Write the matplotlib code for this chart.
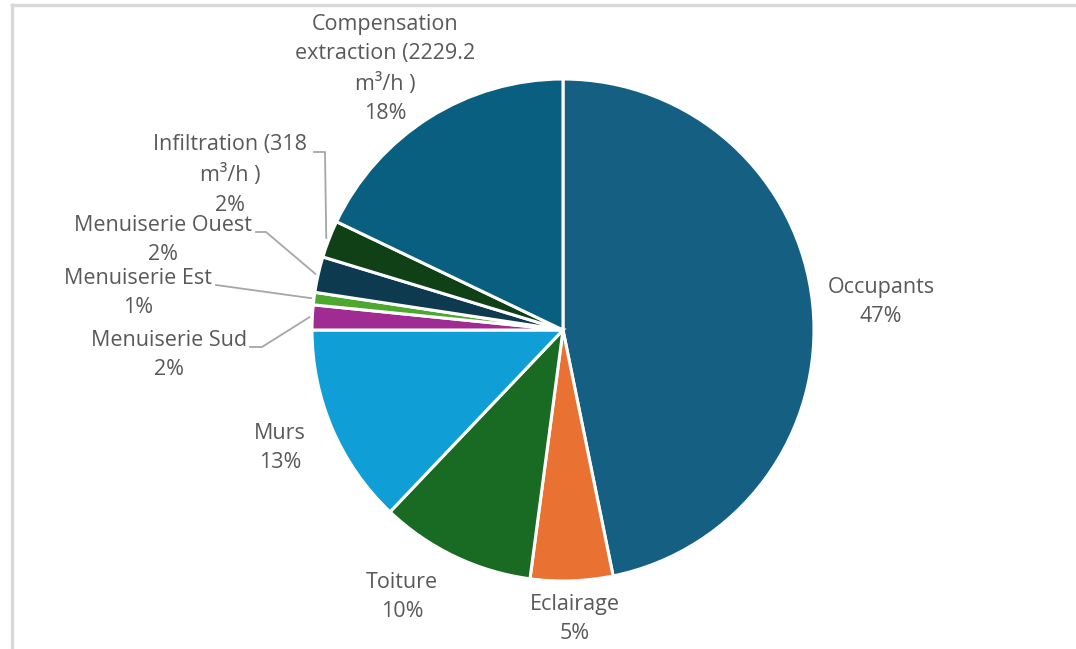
import numpy as np
import matplotlib.pyplot as plt
from matplotlib.lines import Line2D

# slices in clockwise order starting at 12 o'clock
labels = ['Occupants', 'Eclairage', 'Toiture', 'Murs', 'Menuiserie Sud',
          'Menuiserie Est', 'Menuiserie Ouest', 'Infiltration (318\nm\u00b3/h )',
          'Compensation\nextraction (2229.2\nm\u00b3/h )']
values = [46.8, 5.3, 10.0, 12.9, 1.6, 0.8, 2.3, 2.4, 17.9]
pct_text = ['47%', '5%', '10%', '13%', '2%', '1%', '2%', '2%', '18%']
colors = ['#156082', '#E97132', '#196B24', '#0F9ED5', '#A02B93',
          '#4EA72E', '#0D3A4E', '#0F4016', '#095F80']

W, H = 1076, 649
fig = plt.figure(figsize=(W / 100, H / 100), dpi=100)
ax = fig.add_axes([0, 0, 1, 1])

cx, cy, r = 563, H - 330, 251
wedges, _ = ax.pie(values, colors=colors, startangle=90, counterclock=False,
                   center=(cx, cy), radius=r,
                   wedgeprops=dict(edgecolor='white', linewidth=2.2))
ax.set_xlim(0, W)
ax.set_ylim(0, H)
ax.set_aspect('equal')
ax.axis('off')

txt = dict(ha='center', va='center', fontsize=15.5, color='#595959',
           family='Open Sans', linespacing=1.52)

# label centres (image pixel coords)
label_pos = {
    0: (881, 302),
    1: (575, 619),
    2: (402, 597),
    3: (280, 448),
    4: (169, 355),
    5: (138, 293),
    6: (163, 240),
    7: (230, 175),
    8: (385, 69),
}
for i, (x, y) in label_pos.items():
    ax.text(x, H - y, labels[i] + '\n' + pct_text[i], **txt)

# leader lines for the small slices: (start, elbow) in image pixels
leaders = {
    4: [(250, 347), (262, 347)],
    5: [(216, 285)],
    6: [(256, 232), (266, 232)],
    7: [(314, 152), (325, 152)],
}
for i, pts in leaders.items():
    w = wedges[i]
    mid = np.deg2rad((w.theta1 + w.theta2) / 2)
    tip = (cx + (r + 3) * np.cos(mid), cy + (r + 3) * np.sin(mid))
    xs = [p[0] for p in pts] + [tip[0]]
    ys = [H - p[1] for p in pts] + [tip[1]]
    ax.plot(xs, ys, color='#a6a6a6', linewidth=1.3)

# partial chart frame visible in the crop
fig.add_artist(Line2D([12 / W, 12 / W], [0, 1 - 5 / H], transform=fig.transFigure,
                      color='#d9d9d9', linewidth=2.5))
fig.add_artist(Line2D([12 / W, 1], [1 - 5 / H, 1 - 5 / H], transform=fig.transFigure,
                      color='#d9d9d9', linewidth=2.5))

fig.savefig('out.png', dpi=100, facecolor='white')
